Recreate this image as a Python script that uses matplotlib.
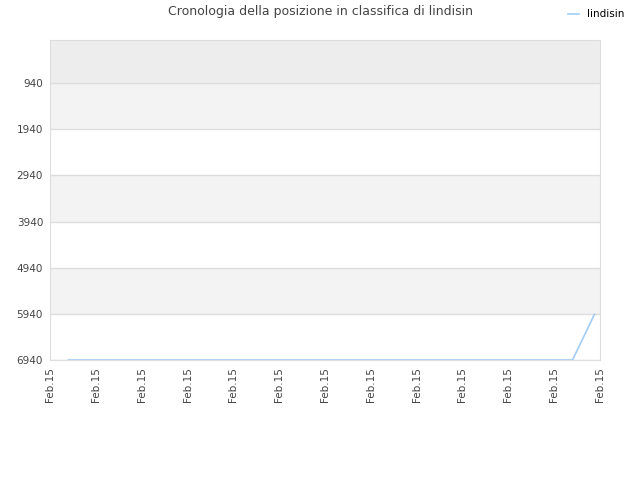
import numpy as np
import matplotlib.pyplot as plt

# rank history of lindisin (x in tick units, lower rank number = better)
days = [0.4, 11.4, 11.88]
ranks = [6940, 6940, 5950]

tick_pos = list(range(13))
tick_labels = ['Feb.15'] * 13
rank_ticks = [940, 1940, 2940, 3940, 4940, 5940, 6940]

fig = plt.figure(figsize=(6.4, 4.8), dpi=100)
ax = fig.add_axes([50 / 640, 1 - 360 / 480, 550 / 640, 320 / 480])

# background bands
ax.axhspan(0, 940, color='#ededed', zorder=0, lw=0)
for i, lo in enumerate(rank_ticks[:-1]):
    col = '#f3f3f3' if i % 2 == 0 else 'white'
    ax.axhspan(lo, lo + 1000, color=col, zorder=0, lw=0)

ax.plot(days, ranks, color='#a3ccf5', lw=1.2, label='lindisin', zorder=3)

ax.set_ylim(6940, 6)
ax.set_xlim(0, 12)
ax.set_yticks(rank_ticks)
ax.set_xticks(tick_pos)
ax.set_xticklabels(tick_labels, rotation=90)
ax.tick_params(axis='both', length=0, labelsize=7.5, colors='#444444', pad=5)
ax.grid(axis='y', color='#dddddd', lw=1)
ax.set_axisbelow(True)
for s in ax.spines.values():
    s.set_color('#dddddd')

fig.text(0.5, 1 - 12 / 480, 'Cronologia della posizione in classifica di lindisin',
         ha='center', va='center', fontsize=9, color='#444444')
fig.legend(loc='upper right', bbox_to_anchor=(0.99, 1.0), frameon=False,
           fontsize=7.5, handlelength=1.0, handletextpad=0.8)

fig.savefig('out.png', dpi=100)
